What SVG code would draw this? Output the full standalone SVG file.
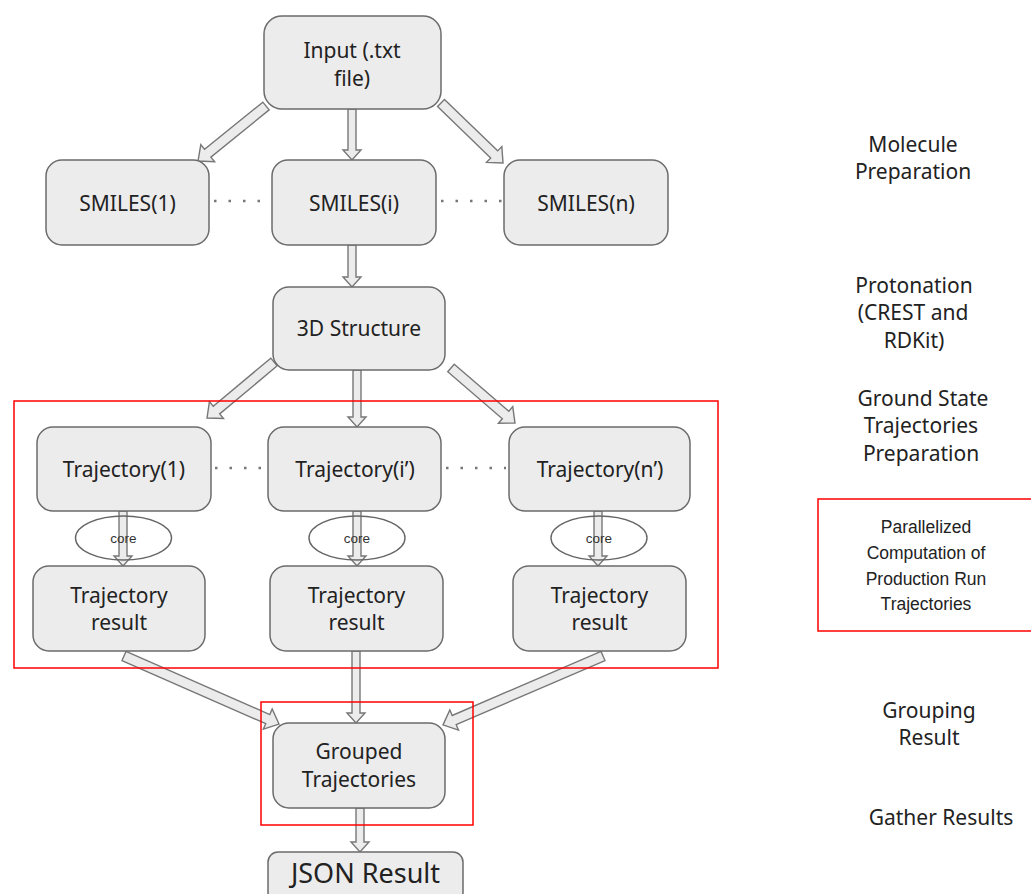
<svg xmlns="http://www.w3.org/2000/svg" width="1031" height="894" viewBox="0 0 1031 894">
<style>
.box{fill:#ececec;stroke:#6b6b6b;stroke-width:1.5}
.arr{fill:#ececec;stroke:#777;stroke-width:1.4;stroke-linejoin:miter}
.t{font-family:"Noto Sans","Open Sans",sans-serif;font-size:21px;fill:#222;text-anchor:middle}
.lbl{font-family:"Noto Sans","Open Sans",sans-serif;font-size:21px;fill:#222;text-anchor:middle}
.core{font-family:"Liberation Sans",Arial,sans-serif;font-size:13.5px;fill:#333;text-anchor:middle}
.par{font-family:"Liberation Sans",Arial,sans-serif;font-size:17.5px;fill:#222;text-anchor:middle}
.dots{stroke:#777;stroke-width:2.5;stroke-dasharray:2.5 12;fill:none}
.red{fill:none;stroke:#f00;stroke-width:1.5}
.ell{fill:none;stroke:#666;stroke-width:1.4}
</style>
<rect width="1031" height="894" fill="#fff"/>

<g id="connectors">
  <path class="arr" transform="translate(266,106) rotate(141)" d="M0,-5 H75 V-11 L87.5,0 L75,11 V5 H0 Z"/>
  <path class="arr" transform="translate(441,103) rotate(44.06)" d="M0,-5 H74 V-11 L86.3,0 L74,11 V5 H0 Z"/>
  <path class="arr" transform="translate(274,362) rotate(140.1)" d="M0,-5 H75 V-11 L87.3,0 L75,11 V5 H0 Z"/>
  <path class="arr" transform="translate(451,368) rotate(40.7)" d="M0,-5 H72 V-11 L84.4,0 L72,11 V5 H0 Z"/>
  <path class="arr" transform="translate(124,656) rotate(23.7)" d="M0,-5 H157 V-11 L169.3,0 L157,11 V5 H0 Z"/>
  <path class="arr" transform="translate(603,656) rotate(156.7)" d="M0,-5 H162 V-11 L174.2,0 L162,11 V5 H0 Z"/>
  <path class="arr" d="M348,109 H356 V150 H361 L352,160 L343,150 H348 Z"/>
  <path class="arr" d="M348,245 H356 V277 H361 L352,287 L343,277 H348 Z"/>
  <path class="arr" d="M353,370 H361 V417 H366 L357,427 L348,417 H353 Z"/>
  <path class="arr" d="M119,511 H127 V556 H132 L123,566 L114,556 H119 Z"/>
  <path class="arr" d="M353,511 H361 V556 H366 L357,566 L348,556 H353 Z"/>
  <path class="arr" d="M594,511 H602 V556 H607 L598,566 L589,556 H594 Z"/>
  <path class="arr" d="M352,651 H360 V713 H365 L356,723 L347,713 H352 Z"/>
  <path class="arr" d="M356,808 H364 V842 H369 L360,852 L351,842 H356 Z"/>
  <line class="dots" x1="214" y1="201" x2="270" y2="201"/>
  <line class="dots" x1="441" y1="201" x2="502" y2="201"/>
  <line class="dots" x1="215" y1="468" x2="266" y2="468"/>
  <line class="dots" x1="446" y1="468" x2="506" y2="468"/>
</g>

<g id="input"><rect class="box" x="264" y="16" width="177" height="93" rx="18"/>
  <text class="t" x="352" y="58">Input (.txt</text><text class="t" x="352" y="86">file)</text></g>
<g id="smiles1"><rect class="box" x="46" y="160" width="163" height="85" rx="16"/><text class="t" x="127.5" y="211">SMILES(1)</text></g>
<g id="smilesi"><rect class="box" x="272" y="160" width="164" height="85" rx="16"/><text class="t" x="354" y="211">SMILES(i)</text></g>
<g id="smilesn"><rect class="box" x="504" y="160" width="164" height="85" rx="16"/><text class="t" x="586" y="211">SMILES(n)</text></g>
<g id="structure3d"><rect class="box" x="273" y="287" width="172" height="83" rx="16"/><text class="t" x="359" y="336">3D Structure</text></g>

<g id="traj1"><rect class="box" x="37" y="427" width="174" height="84" rx="16"/><text class="t" x="124" y="477">Trajectory(1)</text></g>
<g id="traji"><rect class="box" x="268" y="427" width="173" height="84" rx="16"/><text class="t" x="355" y="477">Trajectory(i’)</text></g>
<g id="trajn"><rect class="box" x="509" y="427" width="181" height="84" rx="16"/><text class="t" x="600" y="477">Trajectory(n’)</text></g>

<g id="core1"><ellipse class="ell" cx="123.5" cy="538" rx="48" ry="22"/><text class="core" x="123.5" y="543">core</text></g>
<g id="corei"><ellipse class="ell" cx="357" cy="538" rx="48" ry="22"/><text class="core" x="357" y="543">core</text></g>
<g id="coren"><ellipse class="ell" cx="599" cy="538" rx="48" ry="22"/><text class="core" x="599" y="543">core</text></g>

<g id="result1"><rect class="box" x="33" y="566" width="172" height="85" rx="16"/>
  <text class="t" x="119" y="603">Trajectory</text><text class="t" x="119" y="630">result</text></g>
<g id="resulti"><rect class="box" x="270" y="566" width="173" height="85" rx="16"/>
  <text class="t" x="356.5" y="603">Trajectory</text><text class="t" x="356.5" y="630">result</text></g>
<g id="resultn"><rect class="box" x="513" y="566" width="173" height="85" rx="16"/>
  <text class="t" x="599.5" y="603">Trajectory</text><text class="t" x="599.5" y="630">result</text></g>

<g id="grouped"><rect class="box" x="273" y="723" width="172" height="85" rx="16"/>
  <text class="t" x="359" y="759">Grouped</text><text class="t" x="359" y="787">Trajectories</text></g>
<g id="json"><rect class="box" x="268" y="852" width="195" height="50" rx="10"/>
  <text class="t" x="365.5" y="883" style="font-size:27px">JSON Result</text></g>

<g id="parallel-region"><rect class="red" x="14" y="401" width="704" height="267"/></g>
<g id="gather-region"><rect class="red" x="261" y="702" width="212" height="123"/></g>

<g id="stage-labels">
  <text class="lbl" x="913" y="152">Molecule</text>
  <text class="lbl" x="913" y="179">Preparation</text>
  <text class="lbl" x="914" y="293">Protonation</text>
  <text class="lbl" x="913" y="320">(CREST and</text>
  <text class="lbl" x="914" y="348">RDKit)</text>
  <text class="lbl" x="923" y="406">Ground State</text>
  <text class="lbl" x="921" y="433">Trajectories</text>
  <text class="lbl" x="921" y="461">Preparation</text>
  <text class="lbl" x="929" y="718">Grouping</text>
  <text class="lbl" x="929" y="745">Result</text>
  <text class="lbl" x="941" y="825">Gather Results</text>
</g>
<g id="parallel-note"><rect class="red" x="818" y="499" width="220" height="132"/>
  <text class="par" x="926" y="533">Parallelized</text>
  <text class="par" x="926" y="559">Computation of</text>
  <text class="par" x="926" y="585">Production Run</text>
  <text class="par" x="926" y="610">Trajectories</text>
</g>
</svg>
